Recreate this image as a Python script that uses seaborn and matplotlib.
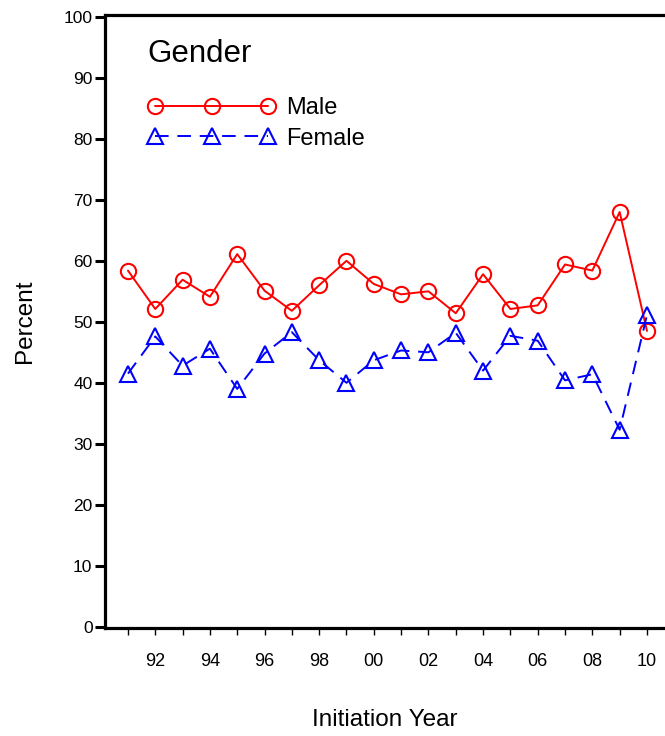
import matplotlib
matplotlib.use("Agg")
import matplotlib.pyplot as plt
import seaborn as sns
import pandas as pd
from matplotlib.ticker import FixedLocator, FuncFormatter

years = list(range(1991, 2011))
male = [58.5, 52.2, 57.0, 54.2, 61.2, 55.2, 51.9, 56.1, 60.1, 56.3,
        54.6, 55.1, 51.5, 57.9, 52.2, 52.8, 59.5, 58.5, 68.1, 48.6]
female = [41.6, 47.7, 42.9, 45.7, 39.1, 44.9, 48.4, 43.8, 40.1, 43.8,
          45.4, 45.1, 48.3, 42.1, 47.8, 47.0, 40.5, 41.5, 32.4, 51.2]
series_labels = ["Male", "Female"]
y_ticks = list(range(0, 101, 10))

sns.set_style("white")
plt.rcParams["font.family"] = ["Liberation Sans", "DejaVu Sans"]
plt.rcParams["text.color"] = "black"
plt.rcParams["axes.labelcolor"] = "black"
plt.rcParams["xtick.color"] = "black"
plt.rcParams["ytick.color"] = "black"

fig = plt.figure(figsize=(6.65, 7.36), dpi=100)
ax = fig.add_axes([105 / 665, 108 / 736, 1 - 105 / 665, (628 - 15) / 736])

sns.lineplot(x=years, y=male, ax=ax, color="#ff0000", marker="o",
             markersize=11, markerfacecolor="none", markeredgecolor="#ff0000",
             markeredgewidth=1.5, linewidth=1.4, errorbar=None, label=series_labels[0])
sns.lineplot(x=years, y=female, ax=ax, color="#0000ff", marker="^",
             markersize=12, markerfacecolor="none", markeredgecolor="#0000ff",
             markeredgewidth=1.5, linewidth=1.4, linestyle=(0, (7, 4.5)),
             errorbar=None, label=series_labels[1])

ax.set_xlim(1990.16, 2010.66)
ax.set_ylim(-0.1, 100.4)

ax.xaxis.set_major_locator(FixedLocator(years))
ax.xaxis.set_major_formatter(FuncFormatter(lambda v, p: f"{int(round(v)) % 100:02d}" if int(round(v)) % 2 == 0 else ""))
ax.set_yticks(y_ticks)

ax.spines["right"].set_visible(False)
for s in ["left", "bottom", "top"]:
    ax.spines[s].set_visible(True)
    ax.spines[s].set_color("black")
    ax.spines[s].set_linewidth(2.3)

ax.tick_params(axis="y", which="major", direction="out", length=7, width=2.2,
               color="black", labelcolor="black", labelsize=12.5, pad=2, left=True)
ax.tick_params(axis="x", which="major", direction="out", length=5, width=1.0,
               color="black", labelcolor="black", labelsize=13, pad=13, bottom=True)

ax.set_xlabel("Initiation Year", fontsize=17.5, labelpad=28, color="black")
ax.set_ylabel("Percent", fontsize=17.5, labelpad=20, color="black")

ax.text(0.075, 0.923, "Gender", transform=ax.transAxes, fontsize=22.5,
        ha="left", va="baseline", color="black")

handles = ax.get_lines()[:2]
leg = ax.legend(handles, series_labels, loc="upper left", bbox_to_anchor=(0.0768, 0.866),
                frameon=False, numpoints=3, handlelength=5.4, handletextpad=0.45,
                fontsize=17, borderpad=0, borderaxespad=0, labelspacing=0.36)
for t in leg.get_texts():
    t.set_color("black")

fig.savefig("out.png", dpi=100)
